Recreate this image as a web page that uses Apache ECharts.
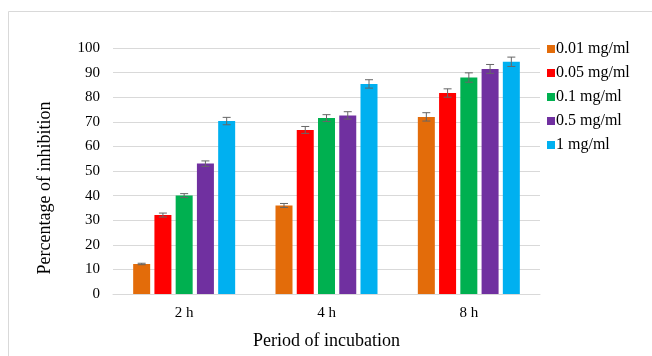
<!DOCTYPE html>
<html>
<head>
<meta charset="utf-8">
<script src="https://cdn.jsdelivr.net/npm/echarts@6/dist/echarts.min.js"></script>
<style>
html, body { margin: 0; padding: 0; background: #fff; }
#chart { width: 652px; height: 356px; }
</style>
</head>
<body>
<div id="chart"></div>
<script>
var categories = ['2 h', '4 h', '8 h'];
var seriesNames = ['0.01 mg/ml', '0.05 mg/ml', '0.1 mg/ml', '0.5 mg/ml', '1 mg/ml'];
var colors = ['#e36c0a', '#ff0000', '#00b050', '#7030a0', '#00b0f0'];
// values per concentration, one per period
var d001 = [12.2, 36.0, 72.0];
var d005 = [32.1, 66.7, 81.7];
var d01 = [40.0, 71.5, 88.0];
var d05 = [53.0, 72.6, 91.5];
var d1 = [70.3, 85.4, 94.4];
// error (+/-) per concentration
var e001 = [0.3, 0.8, 1.7];
var e005 = [0.8, 1.4, 1.7];
var e01 = [0.8, 1.4, 1.9];
var e05 = [1.1, 1.5, 1.8];
var e1 = [1.5, 1.7, 1.9];
var yTicks = [0, 10, 20, 30, 40, 50, 60, 70, 80, 90, 100];

var values = [d001, d005, d01, d05, d1];
var errors = [e001, e005, e01, e05, e1];
var font = 'Liberation Serif';

var chart = echarts.init(document.getElementById('chart'));

var series = [];
values.forEach(function(v, i) {
	series.push({
		name: seriesNames[i],
		type: 'bar',
		data: v,
		barWidth: 17,
		barGap: '25%',
		itemStyle: { color: colors[i] },
		z: 2
	});
});
// error bars drawn after bars, one custom series per concentration
values.forEach(function(v, i) {
	var n = values.length;
	series.push({
		type: 'custom',
		name: 'err' + i,
		data: v.map(function(val, k) { return [k, val - errors[i][k], val + errors[i][k]]; }),
		z: 5,
		silent: true,
		renderItem: function(params, api) {
			var k = api.value(0);
			var lo = api.coord([k, api.value(1)]);
			var hi = api.coord([k, api.value(2)]);
			var bw = 17, gap = 17 * 0.25;
			var total = n * bw + (n - 1) * gap;
			var x = lo[0] - total / 2 + i * (bw + gap) + bw / 2;
			var st = { stroke: '#666', lineWidth: 1 };
			return {
				type: 'group',
				children: [
					{ type: 'line', shape: { x1: x, y1: lo[1], x2: x, y2: hi[1] }, style: st },
					{ type: 'line', shape: { x1: x - 4, y1: lo[1], x2: x + 4, y2: lo[1] }, style: st },
					{ type: 'line', shape: { x1: x - 4, y1: hi[1], x2: x + 4, y2: hi[1] }, style: st }
				]
			};
		}
	});
});

chart.setOption({
	animation: false,
	backgroundColor: '#fff',
	grid: { left: 113, right: 112, top: 48, bottom: 62 },
	legend: {
		data: seriesNames,
		orient: 'vertical',
		left: 542,
		top: 36,
		itemWidth: 8,
		itemHeight: 8,
		itemGap: 8,
		icon: 'rect',
		textStyle: { fontFamily: font, fontSize: 16, color: '#000', padding: [0, 0, 0, -4] }
	},
	xAxis: {
		type: 'category',
		data: categories,
		axisLine: { lineStyle: { color: '#d9d9d9' } },
		axisTick: { show: false },
		axisLabel: { fontFamily: font, fontSize: 15, color: '#000', margin: 12 },
		name: 'Period of incubation',
		nameLocation: 'middle',
		nameGap: 38,
		nameTextStyle: { fontFamily: font, fontSize: 18, color: '#000' }
	},
	yAxis: {
		type: 'value',
		min: yTicks[0],
		max: yTicks[yTicks.length - 1],
		interval: 10,
		axisLine: { show: false },
		axisTick: { show: false },
		splitLine: { lineStyle: { color: '#d9d9d9' } },
		axisLabel: { fontFamily: font, fontSize: 15, color: '#000', margin: 13 }
	},
	graphic: [
		{
			type: 'rect',
			shape: { x: 8.5, y: 11.5, width: 800, height: 500 },
			style: { fill: 'none', stroke: '#d9d9d9', lineWidth: 1 },
			silent: true
		},
		{
			type: 'text',
			x: 45,
			y: 188,
			rotation: Math.PI / 2,
			style: {
				text: 'Percentage of inhibition',
				font: '18px "Liberation Serif"',
				fill: '#000',
				align: 'center',
				verticalAlign: 'middle'
			}
		}
	],
	series: series
});
</script>
</body>
</html>
